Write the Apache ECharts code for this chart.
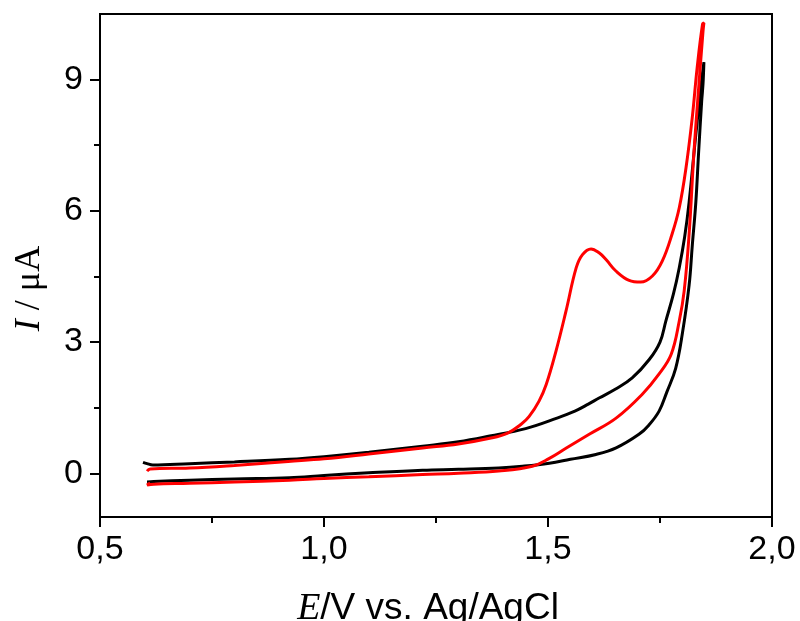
<!DOCTYPE html>
<html>
<head>
<meta charset="utf-8">
<script src="https://cdn.jsdelivr.net/npm/echarts@6/dist/echarts.min.js"></script>
<style>html,body{margin:0;padding:0;background:#fff}#c{width:800px;height:621px}</style>
</head>
<body>
<div id="c"></div>
<script>
// Black CV loop (forward then reverse)
var blackE = [0.596,0.605,0.618,0.7,0.8,0.923,1.0,1.1,1.22,1.3,1.37,1.45,1.52,1.56,1.59,1.614,1.65,1.688,1.726,1.75,1.763,1.78,1.793,1.805,1.815,1.83,1.842,1.848,
              1.846,1.843,1.836,1.83,1.822,1.815,1.8,1.785,1.765,1.748,1.725,1.703,1.652,1.607,1.55,1.503,1.443,1.39,1.3,1.22,1.1,1.0,0.923,0.8,0.7,0.62,0.605];
var blackI = [0.25,0.22,0.19,0.22,0.26,0.32,0.38,0.48,0.62,0.72,0.85,1.02,1.26,1.42,1.58,1.72,1.92,2.18,2.6,3.0,3.48,4.1,4.7,5.4,6.2,7.75,8.9,9.4,
              8.9,8.5,7.3,6.2,5.2,4.3,3.2,2.4,1.85,1.42,1.1,0.89,0.58,0.43,0.32,0.23,0.16,0.12,0.09,0.07,0.01,-0.05,-0.1,-0.13,-0.16,-0.19,-0.2];
// Red CV loop (forward then reverse)
var redE = [0.605,0.612,0.7,0.8,0.92,1.0,1.1,1.22,1.3,1.37,1.41,1.44,1.458,1.48,1.496,1.518,1.54,1.563,1.577,1.596,1.614,1.63,1.651,1.681,1.707,1.733,1.755,1.777,1.793,1.808,1.822,1.833,1.845,1.848,
            1.846,1.837,1.826,1.815,1.804,1.793,1.775,1.748,1.71,1.652,1.592,1.54,1.503,1.465,1.39,1.3,1.22,1.1,1.0,0.923,0.8,0.7,0.62,0.605,0.612];
var redI = [0.05,0.1,0.12,0.18,0.27,0.33,0.44,0.58,0.67,0.8,0.92,1.12,1.3,1.65,2.03,2.8,3.7,4.7,5.0,5.13,5.04,4.88,4.63,4.41,4.37,4.51,4.85,5.47,6.07,6.98,8.13,9.28,10.27,10.3,
            10.1,8.9,7.37,5.47,4.17,3.48,2.72,2.27,1.8,1.26,0.89,0.57,0.34,0.16,0.05,0.0,-0.03,-0.08,-0.12,-0.16,-0.2,-0.23,-0.25,-0.27,-0.22];

var xMajor = [0.5,1.0,1.5,2.0];
var xMinor = [0.75,1.25,1.75];
var yMajor = [0,3,6,9];
var yMinor = [1.5,4.5,7.5];

function pairs(a,b){return a.map(function(v,i){return [v,b[i]];});}
var sans = 'Liberation Sans', serif = 'Liberation Serif';
var lineStyle = {color:'#000',width:2};

var chart = echarts.init(document.getElementById('c'), null, {renderer:'canvas'});
chart.setOption({
  backgroundColor:'#fff',
  animation:false,
  grid:{left:100,right:28,top:14,bottom:104,outerBoundsMode:'none',containLabel:false,show:true,borderColor:'#000',borderWidth:2,backgroundColor:'transparent'},
  xAxis:[{
    type:'value',min:0.5,max:2.0,position:'bottom',
    axisLine:{show:true,onZero:false,lineStyle:lineStyle},
    axisTick:{show:true,inside:false,length:10,lineStyle:lineStyle,customValues:xMajor},
    axisLabel:{show:true,margin:16,color:'#000',fontFamily:sans,fontSize:34,customValues:xMajor,
      formatter:function(v){return v.toFixed(1).replace('.',',');}},
    splitLine:{show:false},
    name:'{i|E}{n|/V vs. Ag/AgCl}',nameLocation:'middle',nameGap:73,
    nameTextStyle:{padding:[0,16,0,0],rich:{i:{fontFamily:serif,fontStyle:'italic',fontSize:38,color:'#000'},n:{fontFamily:sans,fontSize:37,color:'#000'}}}
  },{
    type:'value',min:0.5,max:2.0,position:'bottom',
    axisLine:{show:false,onZero:false},
    axisTick:{show:true,inside:false,length:6,lineStyle:lineStyle,customValues:xMinor},
    axisLabel:{show:false},splitLine:{show:false}
  }],
  yAxis:[{
    type:'value',min:-1,max:10.5,position:'left',
    axisLine:{show:true,onZero:false,lineStyle:lineStyle},
    axisTick:{show:true,inside:false,length:10,lineStyle:lineStyle,customValues:yMajor},
    axisLabel:{show:true,margin:17,color:'#000',fontFamily:sans,fontSize:34,customValues:yMajor},
    splitLine:{show:false},
    name:'{i|I}{n| / μA}',nameLocation:'middle',nameGap:52,nameRotate:90,
    nameTextStyle:{padding:[0,46,0,0],rich:{i:{fontFamily:serif,fontStyle:'italic',fontSize:36,color:'#000'},n:{fontFamily:serif,fontSize:36,color:'#000'}}}
  },{
    type:'value',min:-1,max:10.5,position:'left',
    axisLine:{show:false,onZero:false},
    axisTick:{show:true,inside:false,length:6,lineStyle:lineStyle,customValues:yMinor},
    axisLabel:{show:false},splitLine:{show:false}
  }],
  series:[{
    type:'line',xAxisIndex:0,yAxisIndex:0,data:pairs(blackE,blackI),showSymbol:false,smooth:0.4,
    lineStyle:{color:'#000',width:3},z:2
  },{
    type:'line',xAxisIndex:0,yAxisIndex:0,data:pairs(redE,redI),showSymbol:false,smooth:0.4,
    lineStyle:{color:'#ff0000',width:3},z:3
  }]
});
</script>
</body>
</html>
